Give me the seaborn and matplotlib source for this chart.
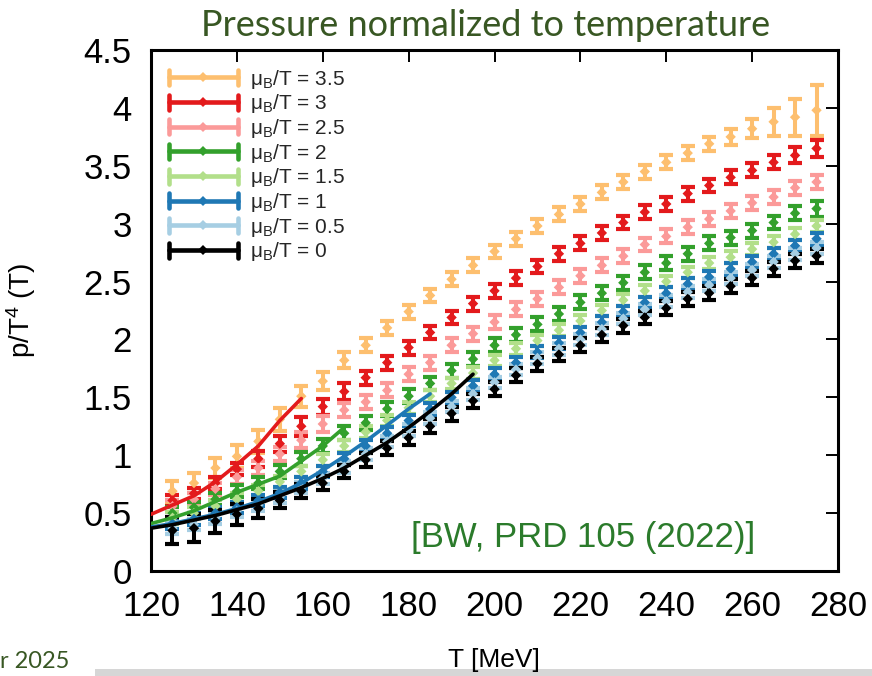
import matplotlib
matplotlib.use("Agg")
import matplotlib.pyplot as plt
from matplotlib.lines import Line2D
from matplotlib.legend_handler import HandlerBase
from matplotlib.patches import Rectangle
import seaborn as sns
import pandas as pd

# ---------------------------------------------------------------- data
temps = [125, 130, 135, 140, 145, 150, 155, 160, 165, 170, 175, 180, 185, 190, 195,
         200, 205, 210, 215, 220, 225, 230, 235, 240, 245, 250, 255, 260, 265, 270, 275]

mu_labels = ["3.5", "3", "2.5", "2", "1.5", "1", "0.5", "0"]

p_mu35 = [0.69, 0.76, 0.89, 0.99, 1.12, 1.31, 1.51, 1.64, 1.82, 1.95, 2.10, 2.24, 2.38, 2.52, 2.64,
          2.76, 2.87, 2.98, 3.08, 3.17, 3.27, 3.36, 3.45, 3.53, 3.61, 3.69, 3.75, 3.82, 3.88, 3.92, 3.98]
p_mu30 = [0.61, 0.67, 0.76, 0.88, 0.97, 1.10, 1.25, 1.42, 1.55, 1.67, 1.80, 1.93, 2.06, 2.19, 2.31,
          2.42, 2.53, 2.63, 2.74, 2.83, 2.92, 3.01, 3.10, 3.17, 3.26, 3.33, 3.40, 3.46, 3.53, 3.59, 3.65]
p_mu25 = [0.56, 0.62, 0.71, 0.81, 0.89, 1.01, 1.13, 1.27, 1.39, 1.46, 1.56, 1.70, 1.80, 1.95, 2.05,
          2.15, 2.26, 2.35, 2.45, 2.55, 2.64, 2.72, 2.82, 2.89, 2.97, 3.04, 3.11, 3.18, 3.23, 3.31, 3.36]
p_mu20 = [0.50, 0.55, 0.62, 0.69, 0.76, 0.86, 0.97, 1.08, 1.19, 1.28, 1.40, 1.51, 1.62, 1.73, 1.83,
          1.95, 2.04, 2.13, 2.22, 2.32, 2.40, 2.49, 2.58, 2.66, 2.74, 2.83, 2.88, 2.94, 3.01, 3.09, 3.13]
p_mu15 = [0.46, 0.50, 0.56, 0.62, 0.69, 0.77, 0.86, 0.96, 1.08, 1.20, 1.30, 1.41, 1.51, 1.62, 1.71,
          1.82, 1.92, 1.99, 2.08, 2.16, 2.25, 2.34, 2.42, 2.50, 2.58, 2.66, 2.71, 2.78, 2.84, 2.91, 2.98]
p_mu10 = [0.41, 0.45, 0.50, 0.55, 0.61, 0.68, 0.76, 0.86, 0.97, 1.08, 1.19, 1.30, 1.40, 1.50, 1.60,
          1.70, 1.80, 1.89, 1.97, 2.06, 2.15, 2.24, 2.32, 2.40, 2.48, 2.54, 2.61, 2.67, 2.74, 2.81, 2.87]
p_mu05 = [0.37, 0.40, 0.46, 0.52, 0.57, 0.64, 0.72, 0.80, 0.90, 1.01, 1.12, 1.22, 1.32, 1.42, 1.53,
          1.63, 1.74, 1.84, 1.92, 2.00, 2.09, 2.18, 2.26, 2.33, 2.41, 2.47, 2.53, 2.60, 2.67, 2.74, 2.79]
p_mu00 = [0.35, 0.37, 0.43, 0.49, 0.54, 0.61, 0.69, 0.76, 0.86, 0.96, 1.06, 1.15, 1.25, 1.36, 1.47,
          1.57, 1.69, 1.79, 1.87, 1.95, 2.04, 2.12, 2.19, 2.27, 2.35, 2.40, 2.46, 2.53, 2.61, 2.68, 2.72]

err_mu35 = [0.09, 0.09, 0.09, 0.10, 0.10, 0.10, 0.09, 0.08, 0.07, 0.06, 0.06, 0.06, 0.06, 0.06, 0.06,
            0.06, 0.06, 0.06, 0.06, 0.06, 0.06, 0.06, 0.06, 0.06, 0.06, 0.06, 0.07, 0.08, 0.12, 0.16, 0.22]
err_mu30 = [0.05, 0.05, 0.05, 0.05, 0.07, 0.07, 0.08, 0.07, 0.07, 0.06, 0.06, 0.06, 0.06, 0.06, 0.06,
            0.06, 0.06, 0.06, 0.06, 0.06, 0.06, 0.06, 0.06, 0.06, 0.06, 0.06, 0.06, 0.06, 0.06, 0.07, 0.07]
err_mu25 = [0.05, 0.05, 0.05, 0.06, 0.06, 0.06, 0.07, 0.07, 0.06, 0.06, 0.06, 0.06, 0.06, 0.06, 0.06,
            0.06, 0.06, 0.06, 0.06, 0.06, 0.06, 0.06, 0.06, 0.06, 0.06, 0.06, 0.06, 0.06, 0.06, 0.06, 0.06]
err_mu20 = [0.05, 0.05, 0.05, 0.05, 0.05, 0.06, 0.06, 0.06, 0.06, 0.06, 0.06, 0.06, 0.06, 0.06, 0.06,
            0.06, 0.06, 0.06, 0.06, 0.06, 0.06, 0.06, 0.06, 0.06, 0.06, 0.06, 0.06, 0.06, 0.06, 0.06, 0.07]
err_mu15 = [0.05, 0.05, 0.05, 0.05, 0.05, 0.05, 0.05, 0.05, 0.05, 0.05, 0.05, 0.05, 0.05, 0.05, 0.05,
            0.05, 0.05, 0.05, 0.05, 0.05, 0.05, 0.05, 0.05, 0.05, 0.05, 0.05, 0.05, 0.05, 0.05, 0.05, 0.05]
err_mu10 = [0.05, 0.05, 0.05, 0.05, 0.05, 0.05, 0.05, 0.05, 0.05, 0.05, 0.05, 0.05, 0.05, 0.05, 0.05,
            0.05, 0.05, 0.05, 0.05, 0.05, 0.05, 0.05, 0.05, 0.05, 0.05, 0.05, 0.05, 0.05, 0.05, 0.05, 0.05]
err_mu05 = [0.05, 0.05, 0.05, 0.05, 0.05, 0.05, 0.05, 0.05, 0.05, 0.05, 0.05, 0.05, 0.05, 0.05, 0.05,
            0.05, 0.05, 0.05, 0.05, 0.05, 0.05, 0.05, 0.05, 0.05, 0.05, 0.05, 0.05, 0.05, 0.05, 0.05, 0.05]
err_mu00 = [0.12, 0.12, 0.10, 0.09, 0.08, 0.07, 0.06, 0.06, 0.06, 0.06, 0.06, 0.06, 0.06, 0.06, 0.06,
            0.06, 0.06, 0.06, 0.06, 0.06, 0.06, 0.06, 0.06, 0.06, 0.06, 0.06, 0.06, 0.06, 0.06, 0.06, 0.06]

# model curves (solid lines) for selected mu_B/T
model_T_mu30 = [120, 125, 130, 135, 140, 145, 150, 155]
model_p_mu30 = [0.49, 0.57, 0.65, 0.77, 0.92, 1.08, 1.30, 1.49]
model_T_mu20 = [120, 125, 130, 135, 140, 145, 150, 155, 160, 165]
model_p_mu20 = [0.41, 0.46, 0.52, 0.60, 0.68, 0.75, 0.82, 0.95, 1.08, 1.24]
model_T_mu10 = [120, 125, 130, 135, 140, 145, 150, 155, 160, 165, 170, 175, 180, 185]
model_p_mu10 = [0.38, 0.41, 0.45, 0.49, 0.54, 0.60, 0.67, 0.76, 0.87, 0.99, 1.12, 1.26, 1.40, 1.53]
model_T_mu00 = [120, 125, 130, 135, 140, 145, 150, 155, 160, 165, 170, 175, 180, 185, 190, 195]
model_p_mu00 = [0.37, 0.40, 0.44, 0.48, 0.53, 0.58, 0.65, 0.72, 0.80, 0.89, 1.00, 1.11, 1.24, 1.38, 1.53, 1.70]

x_ticks = [120, 140, 160, 180, 200, 220, 240, 260, 280]
y_ticks = [0, 0.5, 1, 1.5, 2, 2.5, 3, 3.5, 4, 4.5]
y_tick_labels = ["0", "0.5", "1", "1.5", "2", "2.5", "3", "3.5", "4", "4.5"]

# ---------------------------------------------------------------- style
sns.set_theme(style="white")
plt.rcParams["font.family"] = ["Liberation Sans", "DejaVu Sans"]
plt.rcParams["mathtext.fontset"] = "custom"
plt.rcParams["mathtext.rm"] = "Liberation Sans"
plt.rcParams["mathtext.it"] = "Liberation Sans:italic"
plt.rcParams["mathtext.bf"] = "Liberation Sans:bold"

paired = sns.color_palette("Paired")
colors = {
    "3.5": paired[6], "3": paired[5], "2.5": paired[4], "2": paired[3],
    "1.5": paired[2], "1": paired[1], "0.5": paired[0], "0": "#000000",
}

series = {
    "3.5": (p_mu35, err_mu35), "3": (p_mu30, err_mu30), "2.5": (p_mu25, err_mu25),
    "2": (p_mu20, err_mu20), "1.5": (p_mu15, err_mu15), "1": (p_mu10, err_mu10),
    "0.5": (p_mu05, err_mu05), "0": (p_mu00, err_mu00),
}

points = pd.concat(
    [pd.DataFrame({"T": temps, "p": series[m][0], "err": series[m][1], "mu": m}) for m in mu_labels],
    ignore_index=True,
)
models = pd.concat([
    pd.DataFrame({"T": model_T_mu30, "p": model_p_mu30, "mu": "3"}),
    pd.DataFrame({"T": model_T_mu20, "p": model_p_mu20, "mu": "2"}),
    pd.DataFrame({"T": model_T_mu10, "p": model_p_mu10, "mu": "1"}),
    pd.DataFrame({"T": model_T_mu00, "p": model_p_mu00, "mu": "0"}),
], ignore_index=True)

fig = plt.figure(figsize=(8.72, 6.76), dpi=100)
ax = fig.add_axes([0.1732, 0.1553, 0.7878, 0.7707])

# error bars, drawn from the largest mu_B/T down to zero
for z, m in enumerate(mu_labels):
    d = points[points["mu"] == m]
    ax.errorbar(d["T"], d["p"], yerr=d["err"], fmt="none", ecolor=colors[m],
                elinewidth=2.9, capsize=5, capthick=3.0, zorder=2 + z * 0.1)

sns.scatterplot(data=points, x="T", y="p", hue="mu", hue_order=mu_labels, palette=colors,
                marker="D", s=28, linewidth=0, legend=False, ax=ax, zorder=3)

sns.lineplot(data=models, x="T", y="p", hue="mu", hue_order=["3", "2", "1", "0"],
             palette=colors, linewidth=2.6, legend=False, ax=ax, zorder=4,
             estimator=None, sort=True)

ax.set_xlim(120, 280)
ax.set_ylim(0, 4.5)
ax.set_xticks(x_ticks)
ax.set_xticklabels([str(t) for t in x_ticks])
ax.set_yticks(y_ticks)
ax.set_yticklabels(y_tick_labels)
ax.tick_params(axis="both", which="major", direction="in", length=8.5, width=1.4,
               top=True, right=True, labelsize=25, colors="black")
ax.tick_params(axis="x", pad=14)
ax.tick_params(axis="y", pad=14)
for s in ax.spines.values():
    s.set_linewidth(2.2)
    s.set_color("black")

ax.set_xlabel("T [MeV]", fontsize=19, color="black")
ax.xaxis.set_label_coords(0.499, -0.148)
ax.set_ylabel("p/T$^4$ (T)", fontsize=20, color="black")
ax.yaxis.set_label_coords(-0.164, 0.5)


# legend entries: horizontal bar with end caps and a diamond in the middle
class CappedBarHandler(HandlerBase):
    def create_artists(self, legend, orig_handle, xdescent, ydescent,
                       width, height, fontsize, trans):
        c = orig_handle.get_color()
        y = height / 2.0 - ydescent
        x0, x1 = -xdescent, width - xdescent
        h = 0.36 * fontsize
        bar = Line2D([x0, x1], [y, y], color=c, lw=3.3, transform=trans)
        cap_l = Line2D([x0, x0], [y - h, y + h], color=c, lw=3.3, transform=trans)
        cap_r = Line2D([x1, x1], [y - h, y + h], color=c, lw=3.3, transform=trans)
        mark = Line2D([(x0 + x1) / 2], [y], color=c, marker="D", markersize=5.5,
                      markeredgewidth=0, linestyle="none", transform=trans)
        return [bar, cap_l, cap_r, mark]


handles = [Line2D([], [], color=colors[m]) for m in mu_labels]
labels = ["\u03bc$_\\mathrm{B}$/T = " + m for m in mu_labels]
ax.legend(handles, labels, handler_map={Line2D: CappedBarHandler()},
          loc="upper left", bbox_to_anchor=(0.026, 0.966), frameon=False,
          fontsize=15, handlelength=3.3, handletextpad=0.6, labelspacing=0.08,
          borderpad=0, borderaxespad=0)

ax.text(0.879, 0.046, "[BW, PRD 105 (2022)]", transform=ax.transAxes, ha="right",
        va="baseline", fontsize=25, color="#2b7b2b")

fig.text(0.557, 0.9467, "Pressure normalized to temperature", ha="center", va="baseline",
         fontsize=26, color="#385723", family=["Lato", "DejaVu Sans"])
fig.text(0.0, 0.012, "r 2025", ha="left", va="baseline", fontsize=17,
         color="#385723", family=["Lato", "DejaVu Sans"])
fig.patches.append(Rectangle((95 / 872, 0), 1 - 95 / 872, 7 / 676, transform=fig.transFigure,
                             facecolor="#d6d6d6", edgecolor="none", zorder=-1))

fig.savefig("out.png", dpi=100)
